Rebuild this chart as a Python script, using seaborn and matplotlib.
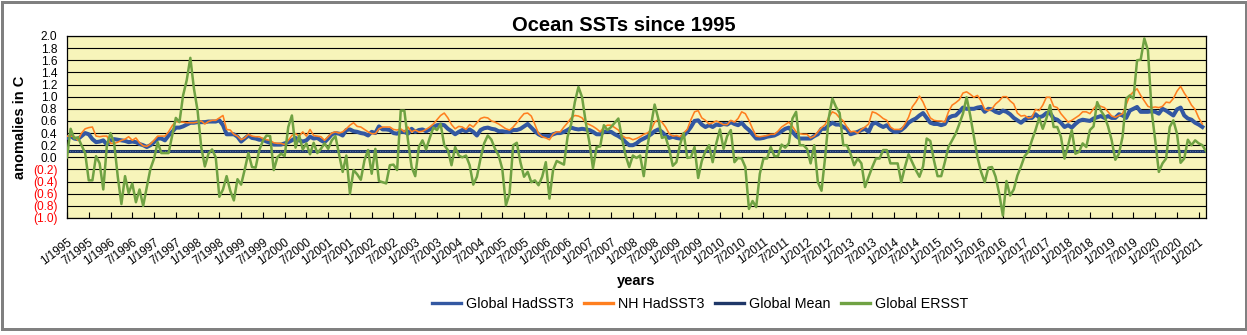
import numpy as np
import pandas as pd
import matplotlib
matplotlib.use("Agg")
import matplotlib.pyplot as plt
from matplotlib.patches import Rectangle
from matplotlib.lines import Line2D
import seaborn as sns

# Monthly sea-surface temperature anomalies (deg C), starting January 1995
global_hadsst3 = [
    0.32, 0.35, 0.31, 0.30, 0.35, 0.40, 0.38, 0.30, 0.25, 0.26, 0.28, 0.21, 0.28, 0.30, 0.29, 0.28,
    0.27, 0.25, 0.26, 0.25, 0.22, 0.20, 0.17, 0.20, 0.25, 0.31, 0.31, 0.28, 0.36, 0.42, 0.49, 0.49,
    0.51, 0.54, 0.57, 0.57, 0.58, 0.58, 0.58, 0.59, 0.59, 0.59, 0.61, 0.53, 0.38, 0.38,
    0.38, 0.34, 0.26, 0.31, 0.36, 0.32, 0.31, 0.29, 0.29, 0.26, 0.24, 0.21, 0.21, 0.21, 0.23, 0.25,
    0.28, 0.32, 0.28, 0.26, 0.28, 0.34, 0.31, 0.32, 0.28, 0.25, 0.31, 0.38, 0.40, 0.39, 0.36, 0.45,
    0.46, 0.43, 0.42, 0.40, 0.39, 0.36, 0.42, 0.40, 0.51, 0.46, 0.46, 0.45, 0.40,
    0.39, 0.42, 0.42, 0.39, 0.47, 0.42, 0.45, 0.46, 0.43, 0.46, 0.50, 0.53, 0.54, 0.53, 0.47, 0.43,
    0.38, 0.42, 0.45, 0.43, 0.46, 0.42, 0.36, 0.45, 0.48, 0.49, 0.47, 0.46, 0.43, 0.43, 0.42, 0.42,
    0.45, 0.45, 0.47, 0.51, 0.55, 0.49, 0.43, 0.38, 0.35, 0.35, 0.35, 0.38, 0.40,
    0.40, 0.42, 0.45, 0.49, 0.47, 0.46, 0.47, 0.46, 0.45, 0.42, 0.38, 0.38, 0.42, 0.43, 0.42, 0.38,
    0.35, 0.31, 0.25, 0.20, 0.20, 0.23, 0.28, 0.31, 0.34, 0.38, 0.43, 0.46, 0.42, 0.36, 0.32, 0.34,
    0.32, 0.31, 0.36, 0.42, 0.50, 0.60, 0.61, 0.54, 0.50, 0.53, 0.50, 0.54, 0.53,
    0.55, 0.54, 0.58, 0.55, 0.53, 0.57, 0.50, 0.45, 0.38, 0.31, 0.31, 0.32, 0.34, 0.35, 0.36, 0.39,
    0.43, 0.47, 0.49, 0.42, 0.35, 0.31, 0.31, 0.31, 0.31, 0.35, 0.38, 0.47, 0.47, 0.53, 0.57, 0.54,
    0.54, 0.50, 0.47, 0.38, 0.40, 0.42, 0.45, 0.47, 0.42, 0.55, 0.57, 0.53, 0.50,
    0.53, 0.46, 0.42, 0.42, 0.45, 0.50, 0.57, 0.61, 0.64, 0.69, 0.73, 0.65, 0.57, 0.55, 0.55, 0.53,
    0.55, 0.65, 0.68, 0.69, 0.75, 0.82, 0.80, 0.80, 0.80, 0.82, 0.83, 0.75, 0.80, 0.79, 0.75, 0.73,
    0.77, 0.75, 0.71, 0.65, 0.61, 0.57, 0.62, 0.65, 0.65, 0.71, 0.66, 0.68, 0.73,
    0.73, 0.64, 0.62, 0.57, 0.50, 0.53, 0.49, 0.55, 0.60, 0.62, 0.61, 0.60, 0.64, 0.66, 0.68, 0.65,
    0.68, 0.65, 0.65, 0.71, 0.69, 0.65, 0.77, 0.80, 0.83, 0.75, 0.75, 0.75, 0.76, 0.75, 0.72, 0.80,
    0.77, 0.73, 0.69, 0.79, 0.82, 0.69, 0.64, 0.62, 0.57, 0.54, 0.50,
]

nh_hadsst3 = [
    0.35, 0.35, 0.34, 0.28, 0.40, 0.47, 0.49, 0.50, 0.35, 0.34, 0.35, 0.35, 0.23, 0.23, 0.25, 0.28,
    0.30, 0.34, 0.28, 0.32, 0.24, 0.19, 0.18, 0.22, 0.28, 0.35, 0.35, 0.35, 0.42, 0.52, 0.59, 0.58,
    0.58, 0.57, 0.57, 0.57, 0.58, 0.60, 0.55, 0.59, 0.61, 0.61, 0.65, 0.69, 0.46, 0.45,
    0.38, 0.35, 0.29, 0.32, 0.38, 0.35, 0.34, 0.34, 0.31, 0.29, 0.28, 0.24, 0.23, 0.23, 0.21, 0.28,
    0.36, 0.39, 0.35, 0.42, 0.35, 0.46, 0.36, 0.35, 0.34, 0.28, 0.34, 0.40, 0.42, 0.40, 0.42, 0.47,
    0.53, 0.57, 0.51, 0.50, 0.46, 0.42, 0.39, 0.39, 0.47, 0.50, 0.50, 0.50, 0.46,
    0.45, 0.47, 0.42, 0.50, 0.42, 0.45, 0.42, 0.43, 0.46, 0.50, 0.55, 0.62, 0.69, 0.73, 0.65, 0.54,
    0.47, 0.51, 0.50, 0.46, 0.54, 0.50, 0.57, 0.64, 0.66, 0.65, 0.60, 0.58, 0.55, 0.51, 0.47, 0.45,
    0.50, 0.57, 0.65, 0.72, 0.73, 0.68, 0.54, 0.39, 0.34, 0.32, 0.29, 0.38, 0.42,
    0.42, 0.50, 0.57, 0.65, 0.69, 0.68, 0.65, 0.57, 0.54, 0.51, 0.47, 0.42, 0.50, 0.53, 0.53, 0.49,
    0.45, 0.36, 0.32, 0.32, 0.29, 0.31, 0.34, 0.38, 0.40, 0.45, 0.58, 0.62, 0.58, 0.50, 0.39, 0.35,
    0.36, 0.34, 0.40, 0.46, 0.62, 0.75, 0.77, 0.65, 0.61, 0.55, 0.57, 0.60, 0.57,
    0.54, 0.54, 0.61, 0.58, 0.64, 0.75, 0.72, 0.61, 0.47, 0.35, 0.34, 0.35, 0.36, 0.38, 0.38, 0.43,
    0.50, 0.54, 0.58, 0.51, 0.42, 0.39, 0.38, 0.38, 0.32, 0.35, 0.42, 0.49, 0.54, 0.66, 0.75, 0.72,
    0.65, 0.60, 0.50, 0.42, 0.43, 0.40, 0.46, 0.50, 0.55, 0.75, 0.73, 0.69, 0.64,
    0.61, 0.50, 0.46, 0.46, 0.46, 0.55, 0.66, 0.83, 0.91, 1.01, 0.91, 0.77, 0.65, 0.61, 0.60, 0.60,
    0.58, 0.75, 0.86, 0.90, 0.95, 1.06, 1.08, 1.04, 0.99, 1.02, 0.93, 0.79, 0.77, 0.80, 0.88, 0.93,
    1.00, 1.00, 0.93, 0.88, 0.73, 0.68, 0.69, 0.65, 0.66, 0.79, 0.77, 0.86, 0.99,
    0.99, 0.84, 0.82, 0.72, 0.65, 0.58, 0.61, 0.65, 0.69, 0.75, 0.75, 0.72, 0.80, 0.87, 0.84, 0.82,
    0.75, 0.68, 0.66, 0.69, 0.72, 0.87, 1.02, 1.08, 1.13, 1.02, 0.93, 0.84, 0.82, 0.83, 0.82, 0.84,
    0.91, 0.90, 0.97, 1.09, 1.17, 1.06, 0.97, 0.86, 0.79, 0.65, 0.55,
]

global_ersst = [
    0.00, 0.47, 0.31, 0.33, 0.20, 0.07, -0.38, -0.38, 0.02, -0.10, -0.53, 0.20, 0.40, 0.23, -0.32, -0.77,
    -0.31, -0.59, -0.43, -0.74, -0.53, -0.80, -0.49, -0.19, -0.02, 0.25, 0.07, 0.07, 0.07, 0.36, 0.65, 0.58,
    1.02, 1.27, 1.64, 1.13, 0.77, 0.17, -0.15, 0.06, 0.13, 0.00, -0.65, -0.53, -0.31, -0.55,
    -0.71, -0.36, -0.45, -0.20, 0.07, -0.16, -0.17, 0.12, 0.27, 0.36, 0.35, -0.21, 0.00, 0.06, 0.02, 0.50,
    0.69, 0.16, 0.36, 0.13, 0.23, 0.05, 0.24, 0.07, 0.14, 0.23, 0.14, 0.28, 0.35, 0.05, -0.24, 0.03,
    -0.60, -0.21, -0.28, -0.37, -0.05, 0.12, -0.27, 0.14, -0.39, -0.41, -0.43, -0.13, -0.12,
    -0.21, 0.77, 0.77, 0.28, -0.16, -0.31, 0.17, 0.28, 0.13, 0.32, 0.49, 0.45, 0.55, 0.20, 0.12, -0.13,
    0.17, 0.03, 0.00, 0.03, -0.13, -0.45, -0.32, -0.02, 0.23, 0.36, 0.29, 0.14, 0.03, -0.19, -0.79, -0.60,
    0.20, 0.24, -0.08, -0.32, -0.24, -0.41, -0.38, -0.46, -0.32, -0.08, -0.68, -0.21, -0.06,
    -0.09, -0.12, 0.34, 0.55, 0.91, 1.16, 0.99, 0.58, 0.25, -0.18, 0.17, 0.18, 0.53, 0.45, 0.50, 0.57,
    0.64, 0.31, 0.03, -0.16, 0.03, -0.01, 0.03, -0.31, 0.17, 0.53, 0.87, 0.64, 0.32, 0.34, 0.14, -0.14,
    -0.08, 0.21, 0.40, -0.01, 0.00, 0.17, -0.34, -0.06, 0.10, 0.20, -0.08, 0.23, 0.46,
    0.14, 0.35, 0.45, -0.08, -0.01, -0.02, -0.16, -0.85, -0.72, -0.82, -0.27, -0.02, -0.02, 0.17, 0.02, 0.02,
    0.21, 0.16, 0.23, 0.64, 0.75, 0.20, 0.20, 0.14, -0.10, 0.20, -0.41, -0.55, 0.00, 0.65, 0.97, 0.83,
    0.73, 0.20, 0.20, 0.06, -0.13, -0.02, -0.10, -0.49, -0.32, -0.16, -0.02, -0.02, 0.12,
    0.12, -0.10, -0.10, -0.10, -0.41, -0.16, 0.05, -0.08, -0.21, -0.32, -0.15, 0.31, 0.27, -0.05, -0.31, -0.31,
    -0.08, 0.17, 0.28, 0.39, 0.55, 0.72, 0.99, 0.69, 0.34, 0.00, -0.24, -0.41, -0.17, -0.16, -0.32, -0.60,
    -0.96, -0.39, -0.63, -0.53, -0.30, -0.15, 0.02, 0.09, 0.28, 0.45, 0.65, 0.47, 0.64,
    0.86, 0.50, 0.50, 0.34, -0.02, 0.20, 0.45, 0.06, 0.09, 0.23, 0.17, 0.45, 0.51, 0.91, 0.77, 0.68,
    0.51, 0.28, -0.04, 0.06, 0.34, 0.97, 1.02, 0.97, 1.60, 1.61, 1.96, 1.76, 0.77, 0.28, -0.24, -0.10,
    -0.02, 0.50, 0.61, 0.39, -0.09, -0.02, 0.29, 0.20, 0.28, 0.23, 0.20, 0.10,
]

global_mean_value = 0.11
start_year = 1995

series_names = ["Global HadSST3", "NH HadSST3", "Global Mean", "Global ERSST"]
series_colors = ["#3358A2", "#FF7F1F", "#1F3768", "#70A243"]

n_months = len(global_ersst)
month_index = np.arange(n_months)
month_labels = [f"{m % 12 + 1}/{start_year + m // 12}" for m in range(n_months)]
tick_positions = list(range(0, n_months, 6))
y_ticks = [round(-1.0 + 0.2 * i, 1) for i in range(16)]
y_labels = [f"{v:.1f}" if v >= 0 else f"({-v:.1f})" for v in y_ticks]
global_mean = [global_mean_value] * n_months

plt.rcParams["font.family"] = ["Liberation Sans", "DejaVu Sans"]

fig = plt.figure(figsize=(12.47, 3.35), dpi=100)
W, H = 1247, 335
ax = fig.add_axes([67 / W, 1 - 218 / H, (1206 - 67) / W, (218 - 36) / H])
ax.set_facecolor("#F7F4BA")

# line widths in points (1 px = 0.72 pt at 100 dpi)
frames = [
    (global_hadsst3, series_names[0], series_colors[0], 2.9, 3),
    (nh_hadsst3, series_names[1], series_colors[1], 1.15, 4),
    (global_mean, series_names[2], series_colors[2], 2.2, 5),
    (global_ersst, series_names[3], series_colors[3], 1.8, 6),
]
for values, name, color, lw, z in frames:
    df = pd.DataFrame({"month": month_index[: len(values)], "anomaly": values})
    sns.lineplot(data=df, x="month", y="anomaly", ax=ax, color=color, lw=lw,
                 estimator=None, zorder=z, legend=False)

# light dotted centre on the mean line
sns.lineplot(x=month_index, y=global_mean, ax=ax, color="#6A88C4", lw=0.6,
             linestyle=(0, (1, 2)), estimator=None, zorder=5.5, legend=False)

ax.set_xlim(0, n_months - 1)
ax.set_ylim(-1.0, 2.0)
ax.set_yticks(y_ticks)
ax.set_yticklabels(y_labels, fontsize=8.6)
for lab, v in zip(ax.get_yticklabels(), y_ticks):
    lab.set_color("#FF0000" if v < 0 else "black")
ax.yaxis.grid(True, color="black", lw=0.8)
ax.set_axisbelow(True)

ax.set_xticks(tick_positions)
ax.set_xticklabels([month_labels[i] for i in tick_positions], rotation=37,
                   ha="right", va="top", rotation_mode="anchor", fontsize=8.4)
ax.tick_params(axis="x", direction="in", length=4, width=0.8, pad=13, colors="black")
ax.tick_params(axis="y", length=0, pad=7)
ax.set_xlabel("")
ax.set_ylabel("")
for sp in ax.spines.values():
    sp.set_color("black")
    sp.set_linewidth(0.9)

fig.text(623.5 / W, 1 - 31 / H, "Ocean SSTs since 1995", ha="center", va="baseline",
         fontsize=14.5, fontweight="bold")
fig.text(20 / W, 1 - 127 / H, "anomalies in C", ha="center", va="center",
         rotation=90, fontsize=10.5, fontweight="bold")
fig.text(636.5 / W, 1 - 284.5 / H, "years", ha="center", va="baseline",
         fontsize=10.5, fontweight="bold")

handles = [Line2D([], [], color=c, lw=2.4) for c in series_colors]
fig.legend(handles, series_names, loc="center", bbox_to_anchor=(700 / W, 1 - 304.5 / H),
           ncol=4, frameon=False, fontsize=10.3, handlelength=2.0, handletextpad=0.35,
           columnspacing=0.75)

fig.add_artist(Rectangle((1.5 / W, 6.5 / H), (1245.5 - 1.5) / W, (333.5 - 6.5) / H,
                         transform=fig.transFigure, fill=False, ec="#808080", lw=3 * 0.72))

fig.savefig("out.png", dpi=100, facecolor="white")
